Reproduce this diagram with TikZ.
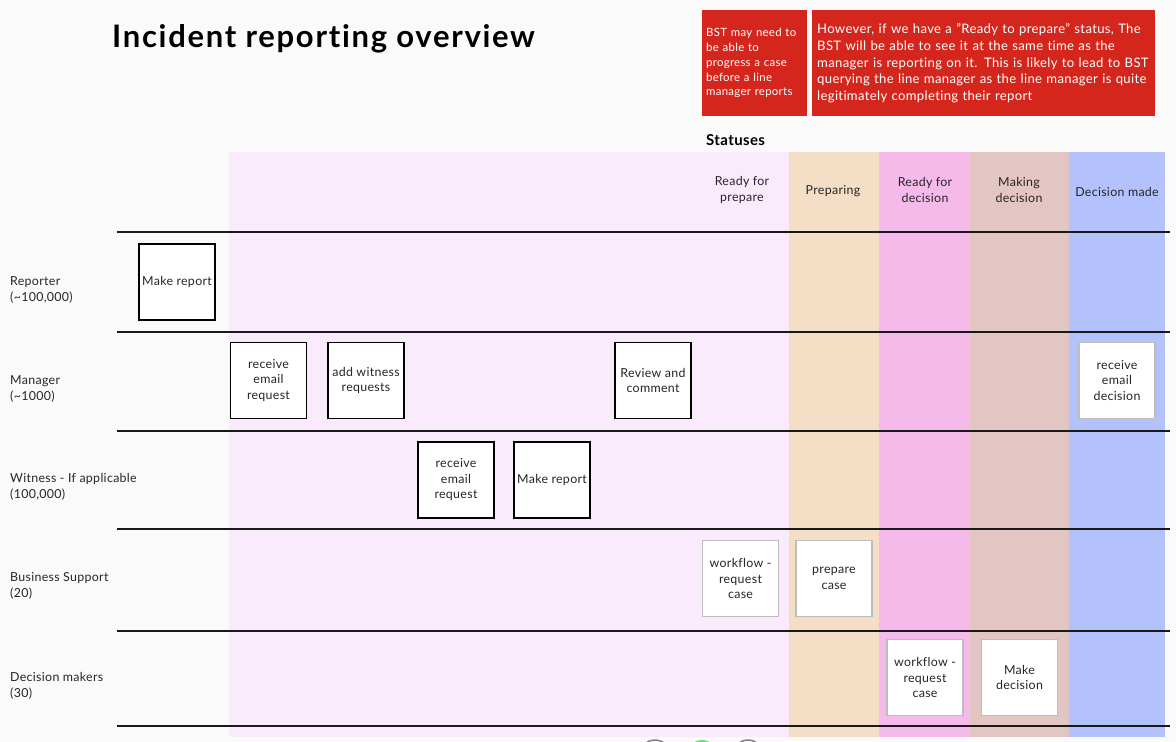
\documentclass[tikz,border=0pt]{standalone}
\usepackage{fontspec}
\setmainfont{Lato}[Ligatures=NoCommon,LetterSpace=2.5]
\usetikzlibrary{positioning}

\definecolor{pagebg}{HTML}{FAFAFA}
\definecolor{lilac}{HTML}{F9EBFC}
\definecolor{peach}{HTML}{F5DEC6}
\definecolor{pinkcol}{HTML}{F5B9EA}
\definecolor{rosecol}{HTML}{E3C6C3}
\definecolor{bluecol}{HTML}{B3C2FC}
\definecolor{notered}{HTML}{D5261D}
\definecolor{inkgrey}{HTML}{262626}
\definecolor{softedge}{HTML}{BDBDBD}
\definecolor{dotgreen}{HTML}{5BE86A}

\begin{document}
\begin{tikzpicture}[x=1pt,y=-1pt,
        task/.style={draw=black,line width=1.6pt,fill=white,minimum width=76pt,
            minimum height=76pt,align=center,inner sep=2pt,text=inkgrey,
            font=\fontsize{12.4}{15.5}\selectfont},
        softtask/.style={task,draw=softedge},
        header/.style={align=center,text=inkgrey,font=\fontsize{12.4}{16}\selectfont},
        lanelabel/.style={anchor=west,align=left,text=inkgrey,inner sep=0pt,
            font=\fontsize{12.4}{15.5}\selectfont},
        note/.style={fill=notered,text=white,align=left,anchor=north west,inner ysep=0pt},
        laneline/.style={draw=black!90,line width=1.5pt}]
    \useasboundingbox (0,0) rectangle (1176,742);
    \fill[pagebg] (0,0) rectangle (1176,742);

    % status columns
    \fill[lilac]   (229,152) rectangle (789,737);
    \fill[peach]   (789,152) rectangle (879,737);
    \fill[pinkcol] (879,152) rectangle (970,737);
    \fill[rosecol] (970,152) rectangle (1069,737);
    \fill[bluecol] (1069,152) rectangle (1165,737);

    % lanes
    \foreach \y in {232,332,431,529,631,726}
        \draw[laneline] (117,\y) -- (1170,\y);

    % titles and notes
    \node[anchor=base west,inner sep=0pt,font=\fontsize{31}{36}\selectfont\bfseries\addfontfeature{LetterSpace=5.5}] (title) at (112,47) {Incident reporting overview};
    \node[note,minimum height=106pt,inner xsep=4pt,text width=97pt,
        font=\fontsize{11.4}{14.8}\selectfont] (note1) at (702,10)
        {BST may need to\\be able to\\progress a case\\before a line\\manager reports};
    \node[note,minimum height=106pt,inner xsep=5pt,text width=333pt,
        font=\fontsize{13.1}{16.7}\selectfont] (note2) at (812,10)
        {However, if we have a \symbol{34}Ready to prepare\symbol{34} status, The\\BST will be able to see it at the same time as the\\manager is reporting on it. This is likely to lead to BST\\querying the line manager as the line manager is quite\\legitimately completing their report};
    \node[anchor=base west,inner sep=0pt,font=\fontsize{15}{18}\selectfont\bfseries] (statuses) at (706,145) {Statuses};

    % column headers
    \node[header] (hready)   at (742,190)   {Ready for\\prepare};
    \node[header] (hprep)    at (833,191.5) {Preparing};
    \node[header] (hreadyd)  at (925,190)   {Ready for\\decision};
    \node[header] (hmaking)  at (1019,190)  {Making\\decision};
    \node[header] (hmade)    at (1117,191.5) {Decision made};

    % lane labels
    \node[lanelabel] (reporter) at (10,290) {Reporter\\(\textasciitilde100,000)};
    \node[lanelabel] (manager)  at (10,389) {Manager\\(\textasciitilde1000)};
    \node[lanelabel] (witness)  at (10,487) {Witness - If applicable\\(100,000)};
    \node[lanelabel] (support)  at (10,586) {Business Support\\(20)};
    \node[lanelabel] (deciders) at (10,686) {Decision makers\\(30)};

    % tasks
    \node[task] (rmake)    at (177,282)   {Make report};
    \node[task] (mreceive) at (268.5,380.5) {receive\\email\\request};
    \node[task] (madd)     at (366,380.5) {add witness\\requests};
    \node[task] (mreview)  at (653,380.5) {Review and\\comment};
    \node[softtask] (mdecision) at (1117,380.5) {receive\\email\\decision};
    \node[task] (wreceive) at (456,480)   {receive\\email\\request};
    \node[task] (wmake)    at (552,480)   {Make report};
    \node[softtask] (bflow)    at (740.5,578.5) {workflow -\\request\\case};
    \node[softtask] (bprepare) at (834,578.5)   {prepare\\case};
    \node[softtask] (dflow)    at (925,677.5)   {workflow -\\request\\case};
    \node[softtask] (dmake)    at (1019.5,677.5) {Make\\decision};

    % cut-off controls at the bottom edge
    \begin{scope}
        \clip (0,0) rectangle (1176,742);
        \draw[gray,line width=1.5pt] (655,755) circle (15pt);
        \fill[dotgreen] (702,755) circle (15pt);
        \draw[gray,line width=1.5pt] (748,755) circle (15pt);
    \end{scope}
\end{tikzpicture}
\end{document}
